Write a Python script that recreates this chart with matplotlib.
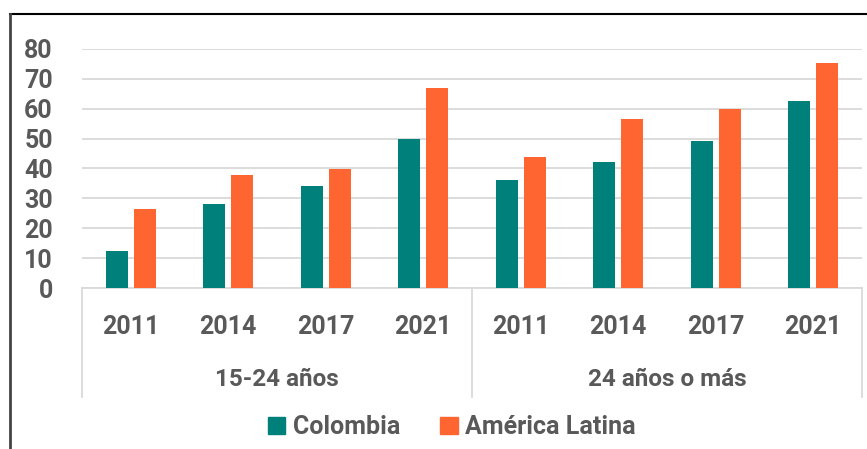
import matplotlib.pyplot as plt
from matplotlib.lines import Line2D
from matplotlib.patches import Patch
import numpy as np

plt.rcParams['font.family'] = ['Roboto', 'DejaVu Sans']

years = ["2011", "2014", "2017", "2021", "2011", "2014", "2017", "2021"]
groups = ["15-24 años", "24 años o más"]
colombia = [12.3, 28.1, 34.1, 49.8, 36.1, 42.2, 49.3, 62.6]
america_latina = [26.3, 37.9, 39.9, 66.9, 43.7, 56.7, 60.0, 75.3]

teal = "#00807b"
orange = "#ff6531"
text_gray = "#595959"
grid_gray = "#d9d9d9"

fig = plt.figure(figsize=(8.67, 4.49), dpi=100)
ax = fig.add_axes([82 / 867, 1 - 288 / 449, 780 / 867, 239 / 449])

x = np.arange(len(years))
w = 0.225
ax.bar(x - 0.143, colombia, w, color=teal, zorder=3)
ax.bar(x + 0.143, america_latina, w, color=orange, zorder=3)

ax.set_xlim(-0.5, len(years) - 0.5)
ax.set_ylim(0, 80)
ax.set_yticks(range(0, 81, 10))
ax.tick_params(axis="y", length=0, pad=21, labelsize=18, labelcolor=text_gray)
for lbl in ax.get_yticklabels():
    lbl.set_fontweight("bold")
ax.grid(axis="y", color=grid_gray, lw=1.3, zorder=0)
for s in ["top", "right", "left"]:
    ax.spines[s].set_visible(False)
ax.spines["bottom"].set_color(grid_gray)
ax.spines["bottom"].set_linewidth(1.3)

# category labels (years + groups)
ax.set_xticks([])
for i, yr in enumerate(years):
    ax.annotate(yr, (i, 0), xycoords=("data", "axes fraction"),
                xytext=(0, -28), textcoords="offset points",
                ha="center", va="center", fontsize=18, fontweight="bold",
                color=text_gray)
for j, g in enumerate(groups):
    ax.annotate(g, (j * 4 + 1.5, 0), xycoords=("data", "axes fraction"),
                xytext=(0, -66), textcoords="offset points",
                ha="center", va="center", fontsize=17.5, fontweight="bold",
                color=text_gray)
tr = ax.get_xaxis_transform()
for xs in [-0.5, 3.5, 7.5]:
    ax.add_line(Line2D([xs, xs], [0, -0.456], transform=tr, color=grid_gray,
                       lw=1.3, clip_on=False))

handles = [Patch(color=teal, label="Colombia"),
           Patch(color=orange, label="América Latina")]
leg = fig.legend(handles=handles, loc="center", ncol=2, frameon=False,
                 bbox_to_anchor=(452 / 867, 1 - 427 / 449),
                 prop={"size": 18, "weight": "bold"},
                 handlelength=0.7, handleheight=0.7, handletextpad=0.3,
                 columnspacing=1.6)
for t in leg.get_texts():
    t.set_color(text_gray)

# outer frame
fig.add_artist(Line2D([10 / 867, 1], [1 - 14 / 449] * 2, color="black", lw=1.5))
fig.add_artist(Line2D([10 / 867] * 2, [0, 1 - 14 / 449], color="#444444", lw=2))

fig.savefig("out.png", dpi=100)
